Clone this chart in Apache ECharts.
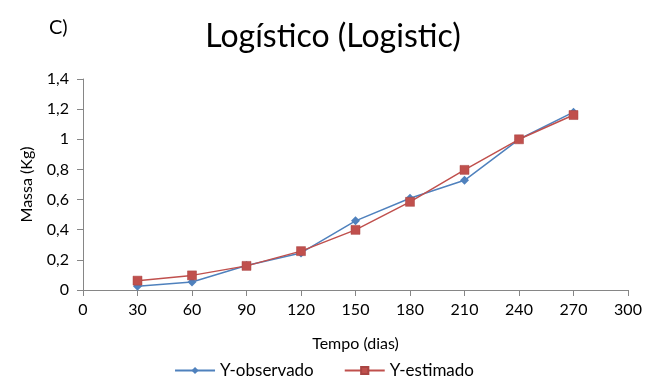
<!DOCTYPE html>
<html><head><meta charset="utf-8">
<script src="https://cdn.jsdelivr.net/npm/echarts@6/dist/echarts.min.js"></script>
<style>html,body{margin:0;padding:0;background:#fff}#c{width:648px;height:388px}</style>
</head><body><div id="c"></div>
<script>
const days = [30, 60, 90, 120, 150, 180, 210, 240, 270];
const yObservado = [0.025, 0.053, 0.163, 0.246, 0.459, 0.609, 0.728, 1.0, 1.18];
const yEstimado = [0.062, 0.097, 0.160, 0.258, 0.399, 0.585, 0.797, 1.0, 1.161];
const titleText = 'Logístico (Logistic)';
const panelLabel = 'C)';
const FONT = 'Lato';
const chart = echarts.init(document.getElementById('c'));
const fmt = v => String(Math.round(v * 10) / 10).replace('.', ',');
chart.setOption({
  animation: false,
  textStyle: { fontFamily: FONT, color: '#000' },
  title: [
    { text: titleText, left: 328, top: 16, textAlign: 'center',
      textStyle: { fontFamily: FONT, fontSize: 32, fontWeight: 'normal', color: '#000' } },
    { text: panelLabel, left: 44, top: 13,
      textStyle: { fontFamily: FONT, fontSize: 20, fontWeight: 'normal', color: '#000' } }
  ],
  legend: {
    bottom: 4, left: 'center', itemGap: 30, itemWidth: 40, itemHeight: 9,
    textStyle: { fontFamily: FONT, fontSize: 17, color: '#000' },
    data: ['Y-observado', 'Y-estimado']
  },
  grid: { left: 83, right: 20, top: 79, bottom: 98, containLabel: false },
  xAxis: {
    type: 'value', min: 0, max: 300, interval: 30,
    name: 'Tempo (dias)', nameLocation: 'middle', nameGap: 46,
    nameTextStyle: { fontFamily: FONT, fontSize: 16, color: '#000' },
    axisLine: { show: true, lineStyle: { color: '#868686', width: 1 } },
    axisTick: { show: true, inside: false, length: 6, lineStyle: { color: '#868686' } },
    axisLabel: { fontFamily: FONT, fontSize: 16, color: '#000', margin: 12 },
    splitLine: { show: false }
  },
  yAxis: {
    type: 'value', min: 0, max: 1.4, interval: 0.2,
    name: 'Massa (Kg)', nameLocation: 'middle', nameGap: 48, nameRotate: 90,
    nameTextStyle: { fontFamily: FONT, fontSize: 16, color: '#000' },
    axisLine: { show: true, lineStyle: { color: '#868686', width: 1 } },
    axisTick: { show: true, inside: false, length: 6, lineStyle: { color: '#868686' } },
    axisLabel: { fontFamily: FONT, fontSize: 16, color: '#000', margin: 14, formatter: fmt },
    splitLine: { show: false }
  },
  series: [
    { name: 'Y-observado', type: 'line', data: days.map((d, i) => [d, yObservado[i]]),
      symbol: 'diamond', symbolSize: 9,
      lineStyle: { color: '#4F81BD', width: 1.5 },
      itemStyle: { color: '#4F81BD' } },
    { name: 'Y-estimado', type: 'line', data: days.map((d, i) => [d, yEstimado[i]]),
      symbol: 'rect', symbolSize: 9,
      lineStyle: { color: '#C0504D', width: 1.5 },
      itemStyle: { color: '#C0504D', borderColor: '#A94543', borderWidth: 0.5 } }
  ]
});
</script></body></html>
